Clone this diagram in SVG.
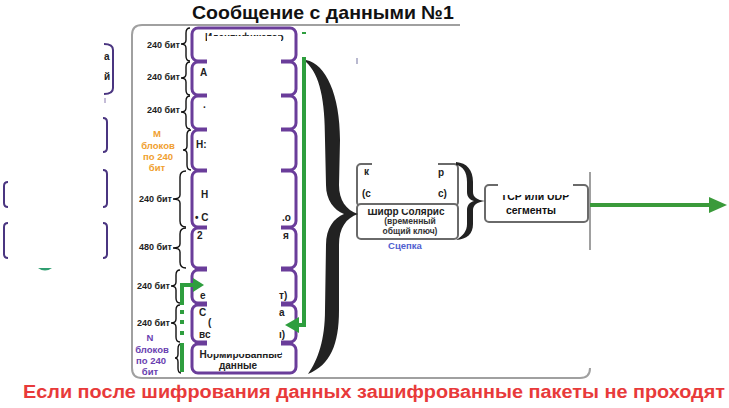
<svg xmlns="http://www.w3.org/2000/svg" width="729" height="408" viewBox="0 0 729 408">
<style>
text{font-family:"Liberation Sans",Arial,sans-serif;font-weight:bold}
.lbl{font-size:9px;fill:#222;text-anchor:end}
.frag{font-size:10px;fill:#222}
.blk{fill:none;stroke:#6a3d9a;stroke-width:3}
.brace{fill:none;stroke:#111;stroke-width:1.4}
.gbox{fill:#fff;stroke:#6a6a6a;stroke-width:2}
.outer{fill:none;stroke:#4a3580;stroke-width:2}
.g{fill:none;stroke:#2e9e3e;stroke-width:4}
.gf{fill:#2e9e3e}
.occ{fill:#fff}
</style>
<defs>
<clipPath id="cutB"><rect x="350" y="209" width="120" height="20"/></clipPath>
<clipPath id="cutC"><rect x="480" y="195" width="120" height="20"/></clipPath>
</defs>
<rect width="729" height="408" fill="#fff"/>
<text x="323" y="19" font-size="19" text-anchor="middle" fill="#111" textLength="262" lengthAdjust="spacingAndGlyphs">Сообщение с данными №1</text>
<g id="panel">
<path d="M460,25 L142,25 Q132,25 132,35 L132,368 Q132,378 142,378 L580,378 Q590,378 590,368" fill="none" stroke="#a0a0a0" stroke-width="2"/>
<path d="M590,172 L590,250" fill="none" stroke="#a0a0a0" stroke-width="2"/>
</g>
<g id="left-fragments">
<path class="outer" d="M104,44 Q113,44 113,50 L113,88 Q113,94 104,94" stroke-width="2.5" stroke="#6a3d9a"/>
<text x="104" y="60" class="frag" font-size="9">а</text>
<text x="104" y="80" class="frag" font-size="9">й</text>
<path d="M105,98 L105,103" stroke="#8a7ab0" stroke-width="1"/>
<path class="outer" d="M103,118 Q107,118 107,122 L107,148 Q107,152 103,152"/>
<path class="outer" d="M8,182 Q4,182 4,186 L4,203 Q4,207 8,207"/>
<path class="outer" d="M103,170 Q107,170 107,174 L107,203 Q107,207 103,207"/>
<path class="outer" d="M8,223 Q4,223 4,227 L4,254 Q4,258 8,258"/>
<path class="outer" d="M103,223 Q107,223 107,227 L107,254 Q107,258 103,258"/>
<path d="M38,268 Q45,273 52,268 Z" fill="#2f9e70"/>
</g>
<g id="labels">
<text class="lbl" x="180" y="48">240 бит</text>
<text class="lbl" x="180" y="80">240 бит</text>
<text class="lbl" x="180" y="113">240 бит</text>
<g font-size="9.5" fill="#f0a030" text-anchor="middle">
<text x="157" y="137">М</text>
<text x="158" y="149">блоков</text>
<text x="158" y="160">по 240</text>
<text x="157" y="171">бит</text>
</g>
<text class="lbl" x="172" y="202">240 бит</text>
<text class="lbl" x="172" y="250">480 бит</text>
<text class="lbl" x="170" y="289">240 бит</text>
<text class="lbl" x="170" y="326">240 бит</text>
<g font-size="9.5" fill="#6a3fb0" text-anchor="middle">
<text x="150" y="341">N</text>
<text x="152" y="353">блоков</text>
<text x="151" y="364">по 240</text>
<text x="150" y="375">бит</text>
</g>
</g>
<g id="braces">
<path class="brace" d="M190,28 Q186,28 186,33 L186,40 Q186,44 181,44 Q186,44 186,48 L186,56 Q186,61 190,61"/>
<path class="brace" d="M190,62 Q186,62 186,67 L186,74 Q186,78 181,78 Q186,78 186,82 L186,90 Q186,95 190,95"/>
<path class="brace" d="M190,96 Q186,96 186,101 L186,108 Q186,112 181,112 Q186,112 186,116 L186,124 Q186,129 190,129"/>
<path class="brace" d="M191,130 Q187,130 187,135 L187,146 Q187,150 183,150 Q187,150 187,154 L187,165 Q187,170 191,170"/>
<path class="brace" d="M186,171 Q180,171 180,177 L180,195 Q180,199 173,199 Q180,199 180,203 L180,221 Q180,227 186,227"/>
<path class="brace" d="M186,228 Q180,228 180,234 L180,244 Q180,248 173,248 Q180,248 180,252 L180,262 Q180,268 186,268"/>
<path class="brace" d="M180,270 Q176,270 176,275 L176,282 Q176,286 171,286 Q176,286 176,290 L176,298 Q176,303 180,303"/>
<path class="brace" d="M180,305 Q176,305 176,310 L176,319 Q176,323 171,323 Q176,323 176,327 L176,337 Q176,342 180,342"/>
<path class="brace" d="M181,344 Q178,344 178,349 L178,354 Q178,358 175,358 Q178,358 178,362 L178,368 Q178,373 181,373"/>
</g>
<g id="blocks">
<rect class="blk" x="192" y="28" width="104" height="33" rx="6"/>
<rect class="blk" x="192" y="62" width="104" height="33" rx="6"/>
<rect class="blk" x="192" y="96" width="104" height="33" rx="6"/>
<rect class="blk" x="192" y="130" width="104" height="40" rx="6"/>
<rect class="blk" x="192" y="171" width="104" height="56" rx="6"/>
<rect class="blk" x="192" y="228" width="104" height="40" rx="6"/>
<rect class="blk" x="192" y="270" width="104" height="33" rx="6"/>
<rect class="blk" x="192" y="305" width="104" height="37" rx="6"/>
<rect class="blk" x="192" y="344" width="104" height="29" rx="6"/>
<text class="frag" x="205" y="41">Идентификатор</text>
<text class="frag" x="241" y="358" text-anchor="middle">Нормированные</text>
<rect class="occ" x="207" y="36" width="74" height="318"/>
<text class="frag" x="200" y="76">А</text>
<text class="frag" x="203" y="111" fill="#999">·</text>
<text class="frag" x="196" y="148">Н:</text>
<text class="frag" x="201" y="198">Н</text>
<text class="frag" x="195" y="221">• С</text>
<text class="frag" x="282" y="221">.о</text>
<text class="frag" x="197" y="239">2</text>
<text class="frag" x="283" y="239">я</text>
<text class="frag" x="200" y="299" font-size="9">е</text>
<text class="frag" x="279" y="299" font-size="9">т)</text>
<text class="frag" x="199" y="316">С</text>
<text class="frag" x="279" y="316" font-size="9">а</text>
<text class="frag" x="208" y="326" font-size="8">(</text>
<text class="frag" x="199" y="338" font-size="9">вс</text>
<text class="frag" x="279" y="338" font-size="9">ı)</text>
<text class="frag" x="238" y="369" text-anchor="middle">данные</text>
</g>
<g id="box-a">
<rect class="gbox" x="357" y="164" width="101" height="42" rx="4"/>
<rect class="occ" x="372" y="158" width="66" height="44"/>
<text class="frag" x="364" y="175">к</text>
<text class="frag" x="438" y="176">р</text>
<text class="frag" x="362" y="197" font-size="9">(с</text>
<text class="frag" x="438" y="197" font-size="9">с)</text>
</g>
<g id="box-b">
<rect class="gbox" x="357" y="204" width="101" height="35" rx="4"/>
<text class="frag" x="406" y="215" text-anchor="middle" clip-path="url(#cutB)">Шифр Солярис</text>
<text x="410" y="224" font-size="8.5" fill="#333" text-anchor="middle">(временный</text>
<text x="410" y="234" font-size="8.5" fill="#333" text-anchor="middle">общий ключ)</text>
<text x="405" y="249" font-size="9.5" fill="#5060d0" text-anchor="middle">Сцепка</text>
</g>
<g id="box-c">
<rect class="gbox" x="485" y="185" width="103" height="37" rx="4"/>
<rect class="occ" x="498" y="180" width="75" height="14"/>
<text x="535" y="200" font-size="10.5" fill="#111" text-anchor="middle" clip-path="url(#cutC)">TCP или UDP</text>
<text x="531" y="214" font-size="10.5" fill="#111" text-anchor="middle">сегменты</text>
</g>
<g id="connectors">
<path d="M306,60 C326,64 340,95 340,140 L339,185 C339,200 346,210 358,214 C346,218 339,228 339,245 L339,310 C339,345 330,365 308,374 C318,360 325,340 325,310 L326,245 C326,228 334,218 344,214 C334,210 326,200 326,185 L325,140 C325,100 320,75 306,62 Z" fill="#222"/>
<path d="M456,162 C467,163 473,170 473,182 L473,192 C473,197 477,200 485,201 C477,202 473,205 473,210 L473,224 C473,234 467,239 456,240 C463,236 467,231 467,224 L467,210 C467,205 470,202 474,201 C470,200 467,197 467,192 L467,182 C467,172 463,166 456,165 Z" fill="#222"/>
<rect class="gf" x="302" y="32" width="4" height="2"/>
<path class="g" d="M304,57 L304,325 L297,325"/>
<polygon class="gf" points="299,317 285,325 299,333"/>
<path class="g" d="M182,305 L182,285 L194,285"/>
<polygon class="gf" points="193,278 204,285 193,292"/>
<rect class="gf" x="180" y="310" width="4" height="4"/>
<rect class="gf" x="180" y="320" width="4" height="4"/>
<rect class="gf" x="180" y="331" width="4" height="4"/>
<path class="g" d="M182,343 L182,372"/>
<path d="M357,58 L357,64" stroke="#8a8ab0" stroke-width="1.2"/>
<path d="M590,205 L712,205" stroke="#3a9a3a" stroke-width="4" fill="none"/>
<polygon points="709,197 727,205 709,213" fill="#3a9a3a"/>
</g>
<text x="374" y="398" font-size="18" fill="#e83a3a" text-anchor="middle" textLength="702" lengthAdjust="spacingAndGlyphs">Если после шифрования данных зашифрованные пакеты не проходят</text>
</svg>
